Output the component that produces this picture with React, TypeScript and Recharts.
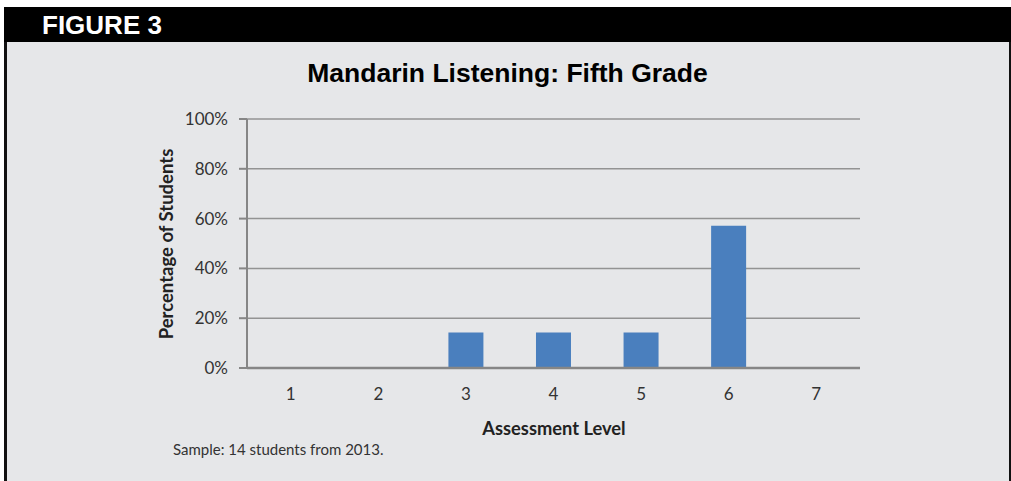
import { Bar, BarChart, CartesianGrid, XAxis, YAxis } from "recharts";

// Assessment levels and how many of the sampled students landed on each
const levels = ["1", "2", "3", "4", "5", "6", "7"];
const students = [0, 0, 2, 2, 2, 8, 0];
const sampleSize = 14;
const yTicks = [0, 20, 40, 60, 80, 100];

const chartData = levels.map((level, i) => ({
  level,
  pct: (students[i] / sampleSize) * 100,
}));

const W = 1011;
const H = 481;
const panelBg = "#e6e7e9";
const axisGray = "#868686";
const tickFont = { fontFamily: "Lato, sans-serif", fontSize: 17, fill: "#333" };

export default function App() {
  return (
    <div style={{ position: "fixed", left: 0, top: 0, width: W, height: H, background: "#fff", overflow: "hidden" }}>
      <div style={{ position: "absolute", left: 4, top: 7, width: 1007, height: 35, background: "#000" }} />
      <div
        style={{
          position: "absolute",
          left: 4,
          top: 42,
          width: 1007,
          height: 439,
          background: panelBg,
          borderLeft: "3px solid #111",
          borderRight: "2px solid #111",
          boxSizing: "border-box",
        }}
      />
      <div style={{ position: "absolute", left: 0, top: 0 }}>
        <BarChart
          width={W}
          height={H}
          data={chartData}
          margin={{ top: 119, right: 151, bottom: 83, left: 187 }}
          barCategoryGap="30%"
        >
          <CartesianGrid vertical={false} stroke="#939393" strokeWidth={1.5} />
          <XAxis
            dataKey="level"
            height={30}
            tickLine={false}
            tickSize={0}
            tickMargin={20}
            axisLine={{ stroke: axisGray, strokeWidth: 2.5 }}
            tick={tickFont}
          />
          <YAxis
            width={60}
            domain={[0, 100]}
            ticks={yTicks}
            tickFormatter={(v: number) => `${v}%`}
            tickSize={8}
            tickMargin={11}
            tickLine={{ stroke: axisGray, strokeWidth: 2 }}
            axisLine={{ stroke: axisGray, strokeWidth: 2 }}
            tick={tickFont}
          />
          <Bar dataKey="pct" fill="#4a7fbe" isAnimationActive={false} />
        </BarChart>
      </div>
      <svg width={W} height={H} style={{ position: "absolute", left: 0, top: 0, pointerEvents: "none" }}>
        <text x={42} y={34} fill="#fff" fontFamily="'Liberation Sans', Arial, sans-serif" fontWeight="bold" fontSize={26}>
          FIGURE 3
        </text>
        <text
          x={507.5}
          y={82}
          textAnchor="middle"
          fill="#000"
          fontFamily="'Liberation Sans', Arial, sans-serif"
          fontWeight="bold"
          fontSize={26.5}
        >
          Mandarin Listening: Fifth Grade
        </text>
        <text
          transform="translate(173, 244) rotate(-90)"
          textAnchor="middle"
          fill="#222"
          fontFamily="Lato, sans-serif"
          fontWeight="bold"
          fontSize={18.5}
        >
          Percentage of Students
        </text>
        <text x={554} y={435} textAnchor="middle" fill="#222" fontFamily="Lato, sans-serif" fontWeight="bold" fontSize={18.3}>
          Assessment Level
        </text>
        <text x={173} y={455} fill="#333" fontFamily="Lato, sans-serif" fontSize={15}>
          Sample: 14 students from 2013.
        </text>
      </svg>
    </div>
  );
}
